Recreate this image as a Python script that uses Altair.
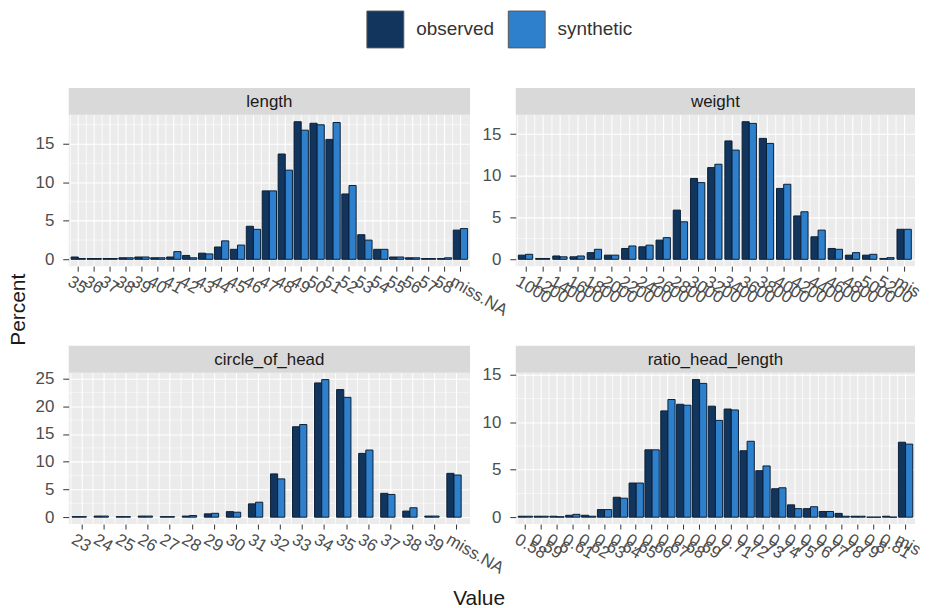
import altair as alt
import pandas as pd

FONT = "Liberation Sans"
OBS = "#12355E"
SYN = "#2F80CC"
GROUPS = ["observed", "synthetic"]

length_cats = ["35", "36", "37", "38", "39", "40", "41", "42", "43", "44", "45", "46",
               "47", "48", "49", "50", "51", "52", "53", "54", "55", "56", "57", "58", "miss.NA"]
length_obs = [0.3, 0.1, 0.1, 0.2, 0.3, 0.2, 0.3, 0.5, 0.8, 1.6, 1.3, 4.3, 8.9, 13.7, 17.9,
              17.7, 15.6, 8.5, 3.2, 1.3, 0.3, 0.2, 0.1, 0.1, 3.8]
length_syn = [0.1, 0.1, 0.1, 0.2, 0.3, 0.2, 1.0, 0.2, 0.7, 2.4, 1.85, 3.9, 8.9, 11.6, 16.8,
              17.5, 17.8, 9.6, 2.5, 1.3, 0.3, 0.2, 0.1, 0.2, 4.0]

weight_cats = ["1000", "1200", "1400", "1600", "1800", "2000", "2200", "2400", "2600", "2800",
               "3000", "3200", "3400", "3600", "3800", "4000", "4200", "4400", "4600", "4800",
               "5000", "5200", "miss.NA"]
weight_obs = [0.5, 0.1, 0.4, 0.3, 0.8, 0.5, 1.3, 1.5, 2.3, 5.9, 9.7, 11.0, 14.2, 16.5, 14.5,
              8.5, 5.2, 2.7, 1.3, 0.5, 0.5, 0.1, 3.6]
weight_syn = [0.6, 0.1, 0.3, 0.4, 1.2, 0.5, 1.6, 1.7, 2.6, 4.5, 9.2, 11.4, 13.1, 16.3, 13.9,
              9.0, 5.7, 3.5, 1.2, 0.8, 0.6, 0.2, 3.6]

circle_cats = ["23", "24", "25", "26", "27", "28", "29", "30", "31", "32", "33", "34", "35",
               "36", "37", "38", "39", "miss.NA"]
circle_obs = [0.1, 0.2, 0.1, 0.2, 0.1, 0.2, 0.6, 1.0, 2.4, 7.8, 16.3, 24.2, 23.0, 11.5, 4.3,
              1.1, 0.2, 7.9]
circle_syn = [0.1, 0.2, 0.1, 0.2, 0.1, 0.3, 0.7, 0.9, 2.7, 6.9, 16.7, 24.8, 21.6, 12.1, 4.1,
              1.7, 0.2, 7.6]

ratio_cats = ["0.58", "0.59", "0.6", "0.61", "0.62", "0.63", "0.64", "0.65", "0.66", "0.67",
              "0.68", "0.69", "0.7", "0.71", "0.72", "0.73", "0.74", "0.75", "0.76", "0.77",
              "0.78", "0.79", "0.8", "0.81", "miss.NA"]
ratio_obs = [0.1, 0.1, 0.1, 0.2, 0.2, 0.8, 2.1, 3.6, 7.1, 11.2, 11.9, 14.5, 11.7, 11.4, 7.0,
             4.9, 3.0, 1.3, 0.9, 0.6, 0.4, 0.1, 0.0, 0.1, 7.9]
ratio_syn = [0.1, 0.1, 0.05, 0.3, 0.1, 0.8, 2.0, 3.6, 7.1, 12.4, 11.8, 14.1, 10.2, 11.3, 8.0,
             5.4, 3.1, 0.9, 1.1, 0.6, 0.1, 0.1, 0.0, 0.0, 7.7]

PLOT_H = 152
STRIP_H = 27
AXIS_FS = 17
# the right-hand panels' last label runs off the picture's right edge in the reference
EDGE_EXPR = "datum.label == 'miss.NA' ? 'mis' : datum.label"


def panel(name, cats, obs, syn, w, at_edge=False):
    df = pd.DataFrame({
        "Value": cats + cats,
        "Percent": obs + syn,
        "group": [GROUPS[0]] * len(cats) + [GROUPS[1]] * len(cats),
    })
    ymax = max(obs + syn)
    dom = [-0.05 * ymax, 1.05 * ymax]
    major = [t for t in range(0, 30, 5) if t <= dom[1]]
    minor = [t + 2.5 for t in major if t + 2.5 <= dom[1]]
    step = w / (len(cats) + 0.2)

    xscale = alt.Scale(paddingInner=0.1, paddingOuter=0.15)
    yscale = alt.Scale(domain=dom, nice=False, zero=False)
    xaxis_kw = dict(title=None, labelAngle=30, labelAlign="left", labelBaseline="top",
                    bandPosition=0.5, grid=True, gridColor="white", gridWidth=1.1,
                    tickSize=5, tickColor="#333333", domain=False, labelFontSize=AXIS_FS,
                    labelColor="#4D4D4D", labelPadding=2, labelOffset=-5, labelFont=FONT,
                    labelOverlap=False)
    if at_edge:
        xaxis_kw["labelExpr"] = EDGE_EXPR
    xaxis = alt.Axis(**xaxis_kw)
    yaxis = alt.Axis(title=None, values=major, grid=True, gridColor="white",
                     gridWidth=1.1, tickSize=6, tickColor="#333333", domain=False,
                     labelFontSize=AXIS_FS, labelColor="#4D4D4D", labelPadding=9,
                     labelFont=FONT)
    X = alt.X("Value:N", sort=cats, scale=xscale, axis=xaxis)
    Y = alt.Y("Percent:Q", scale=yscale, axis=yaxis)

    base = alt.Chart(df)
    vminor = base.mark_rule(color="white", strokeWidth=0.5, xOffset=-0.05 * step).encode(
        x=alt.X("Value:N", sort=cats, scale=xscale, axis=xaxis, bandPosition=0))
    hminor = alt.Chart(pd.DataFrame({"Percent": minor})).mark_rule(
        color="white", strokeWidth=0.5).encode(y=Y)
    bars = base.mark_bar(stroke="#0B1F35", strokeWidth=1).encode(
        x=X,
        xOffset=alt.XOffset("group:N", sort=GROUPS,
                            scale=alt.Scale(paddingInner=0, paddingOuter=0)),
        y=Y,
        color=alt.Color("group:N", sort=GROUPS,
                        scale=alt.Scale(domain=GROUPS, range=[OBS, SYN]),
                        legend=alt.Legend(title=None, orient="none", direction="horizontal",
                                          legendX=299, legendY=-105, symbolType="square",
                                          symbolSize=1369, symbolStrokeColor="#555555",
                                          symbolStrokeWidth=1, labelFontSize=19,
                                          labelFont=FONT, labelColor="#333333",
                                          labelOffset=12, columnPadding=11)),
    )
    sdf = pd.DataFrame({"name": [name]})
    strip_bg = alt.Chart(sdf).mark_rect(color="#D9D9D9").encode(
        x=alt.value(0), x2=alt.value(w), y=alt.value(-STRIP_H), y2=alt.value(0))
    strip_txt = alt.Chart(sdf).mark_text(font=FONT, fontSize=17, color="#1A1A1A").encode(
        text="name:N", x=alt.value(w / 2), y=alt.value(-STRIP_H / 2 + 1))
    return alt.layer(vminor, hminor, bars, strip_bg, strip_txt).properties(
        width=w, height=PLOT_H, view=alt.ViewBackground(fill="#EBEBEB", strokeWidth=0))


grid = alt.concat(
    panel("length", length_cats, length_obs, length_syn, 403),
    panel("weight", weight_cats, weight_obs, weight_syn, 401, at_edge=True),
    panel("circle_of_head", circle_cats, circle_obs, circle_syn, 403),
    panel("ratio_head_length", ratio_cats, ratio_obs, ratio_syn, 401, at_edge=True),
    columns=2, spacing=alt.RowColnumber(row=107, column=46), bounds="flush",
    title=alt.TitleParams("Value", orient="bottom", anchor="middle", fontSize=21,
                          font=FONT, fontWeight="normal", color="#1A1A1A", offset=12))

chart = alt.hconcat(grid,
                    title=alt.TitleParams("Percent", orient="left", anchor="middle",
                                          fontSize=21, font=FONT, fontWeight="normal",
                                          color="#1A1A1A", offset=6),
                    padding={"left": 0, "top": 1, "right": 0, "bottom": 0}
                    ).configure_view(strokeWidth=0).configure(background="white")

chart.save("out.html", embed_options={"renderer": "svg", "actions": False})
